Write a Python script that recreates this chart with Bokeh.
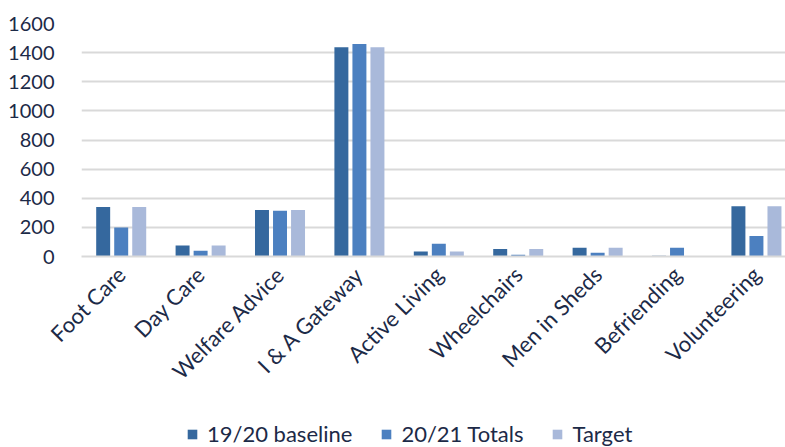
from bokeh.plotting import figure
from bokeh.models import Range1d, FixedTicker, Legend, LegendItem, ColumnDataSource
from bokeh.layouts import column
from bokeh.transform import dodge
from bokeh.embed import file_html
from bokeh.resources import INLINE
import math

# Service categories and the three series per category
categories = ["Foot Care", "Day Care", "Welfare Advice", "I & A Gateway", "Active Living",
              "Wheelchairs", "Men in Sheds", "Befriending", "Volunteering"]
baseline_1920 = [340, 75, 320, 1437, 35, 52, 60, 5, 345]
totals_2021 = [200, 40, 315, 1460, 88, 12, 25, 60, 140]
target = [340, 75, 320, 1437, 35, 52, 60, 3, 345]
y_ticks = [0, 200, 400, 600, 800, 1000, 1200, 1400, 1600]

series_names = ["19/20 baseline", "20/21 Totals", "Target"]
series_colors = ["#35689e", "#4c80c0", "#a9b9da"]

TEXT = "#1c2a47"
FONT = "Lato"

source = ColumnDataSource(dict(
    x=list(range(len(categories))),
    b=baseline_1920,
    t=totals_2021,
    g=target,
))

# main chart
p = figure(width=785, height=410, output_backend="svg", toolbar_location=None,
           x_range=Range1d(-0.5, len(categories) - 0.5 - 0.134),
           y_range=Range1d(0, 1600),
           min_border_left=81, min_border_right=0, min_border_top=23, min_border_bottom=154)
p.outline_line_color = None
p.background_fill_color = "white"
p.border_fill_color = "white"

bw = 0.176
step = 0.227
for col, off, color in zip(["b", "t", "g"], [-step, 0, step], series_colors):
    p.vbar(x=dodge("x", off), top=col, width=bw, source=source,
           fill_color=color, line_color=None)

# y axis
p.yaxis.ticker = FixedTicker(ticks=y_ticks)
p.yaxis.axis_line_color = None
p.yaxis.major_tick_line_color = None
p.yaxis.minor_tick_line_color = None
p.yaxis.major_label_text_font = FONT
p.yaxis.major_label_text_font_size = "20px"
p.yaxis.major_label_text_color = TEXT
p.yaxis.major_label_standoff = 21

# x axis with category names
p.xaxis.ticker = FixedTicker(ticks=list(range(len(categories))))
p.xaxis.major_label_overrides = {i: c for i, c in enumerate(categories)}
p.xaxis.major_label_orientation = math.pi / 4
p.xaxis.axis_line_color = "#d9d9d9"
p.xaxis.axis_line_width = 2
p.xaxis.major_tick_line_color = None
p.xaxis.minor_tick_line_color = None
p.xaxis.major_label_text_font = FONT
p.xaxis.major_label_text_font_size = "22px"
p.xaxis.major_label_text_color = TEXT
p.xaxis.major_label_standoff = 8

p.xgrid.grid_line_color = None
p.ygrid.grid_line_color = "#d9d9d9"
p.ygrid.grid_line_width = 2

# legend strip underneath the chart; its key glyphs sit outside the strip's range
leg = figure(width=785, height=37, output_backend="svg", toolbar_location=None,
             x_range=Range1d(0, 1), y_range=Range1d(0, 1),
             min_border_left=0, min_border_right=0, min_border_top=0, min_border_bottom=0)
leg.axis.visible = False
leg.grid.grid_line_color = None
leg.outline_line_color = None
keys = [leg.vbar(x=[5], top=[1], width=0.1, fill_color=c, line_color=None) for c in series_colors]

legend = Legend(items=[LegendItem(label=n, renderers=[r]) for n, r in zip(series_names, keys)],
                orientation="horizontal", location=(105, 0),
                label_text_font=FONT, label_text_font_size="22px", label_text_color=TEXT,
                glyph_width=12, glyph_height=12, label_standoff=9, spacing=28,
                border_line_color=None, background_fill_alpha=0, padding=0, margin=0)
leg.add_layout(legend, "center")

open("out.html", "w").write(file_html(column(p, leg, spacing=0), INLINE))
